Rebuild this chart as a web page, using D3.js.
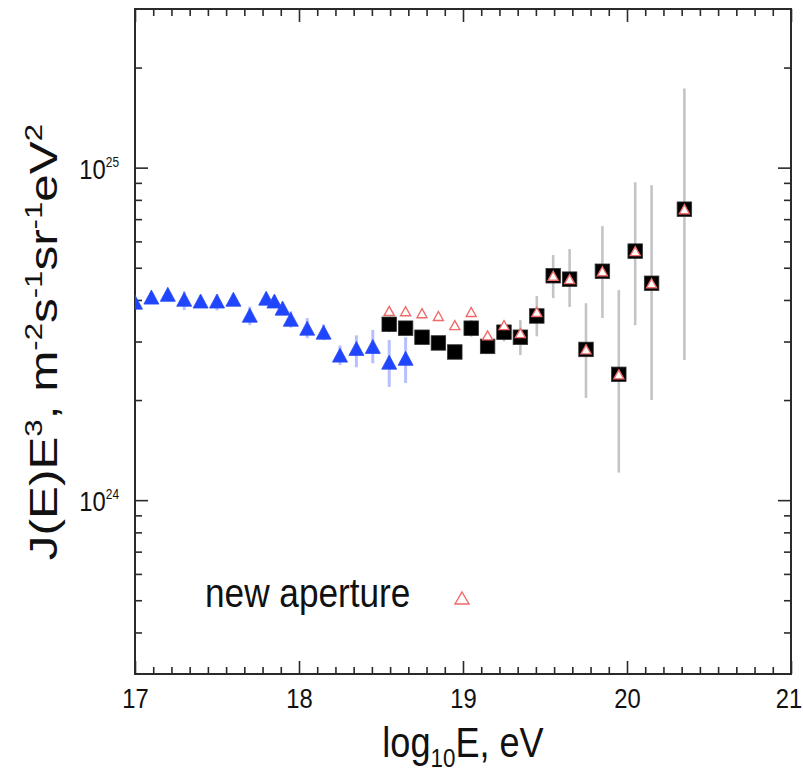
<!DOCTYPE html>
<html>
<head>
<meta charset="utf-8">
<script src="https://cdn.jsdelivr.net/npm/d3@7"></script>
<style>
  html, body { margin: 0; padding: 0; background: #fff; }
  svg { display: block; }
  text { font-family: "Liberation Sans", Arial, sans-serif; fill: #111; }
</style>
</head>
<body>
<svg id="chart" width="803" height="777"></svg>
<script>
// ---- data (J(E)E^3 in units of 1e24 m^-2 s^-1 sr^-1 eV^2) ----
const lowX  = [17.0, 17.1, 17.2, 17.3, 17.4, 17.5, 17.6, 17.7, 17.8, 17.85, 17.9, 17.95, 18.05, 18.15, 18.25, 18.35, 18.45, 18.55, 18.65];
const lowY  = [3.94, 4.08, 4.16, 4.02, 3.97, 3.97, 4.02, 3.60, 4.05, 3.97, 3.78, 3.50, 3.29, 3.20, 2.73, 2.86, 2.90, 2.60, 2.67];
const lowLo = [3.84, 3.98, 4.06, 3.73, 3.82, 3.72, 3.88, 3.36, 3.90, 3.85, 3.60, 3.30, 3.07, 3.03, 2.55, 2.51, 2.58, 2.19, 2.25];
const lowHi = [4.04, 4.18, 4.26, 4.25, 4.12, 4.15, 4.16, 3.82, 4.20, 4.10, 3.95, 3.70, 3.53, 3.38, 2.92, 3.13, 3.25, 3.03, 3.09];

const highX  = [18.55, 18.65, 18.75, 18.85, 18.95, 19.05, 19.15, 19.25, 19.35, 19.45, 19.55, 19.65, 19.75, 19.85, 19.95, 20.05, 20.15, 20.35];
const highY  = [3.38, 3.29, 3.09, 2.97, 2.79, 3.29, 2.90, 3.20, 3.09, 3.58, 4.73, 4.62, 2.84, 4.88, 2.39, 5.61, 4.49, 7.50];
const highLo = [3.20, 3.12, 2.95, 2.83, 2.66, 3.10, 2.75, 3.00, 2.73, 3.11, 4.05, 3.81, 2.03, 3.53, 1.21, 3.36, 2.00, 2.64];
const highHi = [3.56, 3.46, 3.24, 3.12, 2.93, 3.48, 3.05, 3.42, 3.48, 4.11, 5.46, 5.69, 3.91, 6.67, 4.28, 9.04, 8.86, 17.3];

const newApY = [3.71, 3.70, 3.65, 3.58, 3.36, 3.68, 3.13, 3.36, 3.18, 3.68, 4.73, 4.62, 2.84, 4.88, 2.39, 5.61, 4.49, 7.50];

const xTickLabels = [17, 18, 19, 20, 21];
const yTickExps   = [24, 25];
const legendLabel = "new aperture";
const UNIT = 1e24;

// ---- layout ----
const svg = d3.select("#chart");
const plot = { left: 135, right: 791, top: 9, bottom: 674 };

const x = d3.scaleLinear().domain([17, 21]).range([plot.left, plot.right]);
const y = d3.scaleLog().domain([3e23, 3e25]).range([plot.bottom, plot.top]);

// tick positions
const xMinor = d3.range(17, 21.0001, 1 / 9).filter(v => Math.abs(v - Math.round(v)) > 1e-6);
const yMajor = yTickExps.map(e => Math.pow(10, e));
const yMinor = [4e23, 5e23, 6e23, 7e23, 8e23, 9e23,
                2e24, 3e24, 4e24, 5e24, 6e24, 7e24, 8e24, 9e24, 2e25];

const tickColor = "#2a2a2a";
const textColor = "#1a1a1a";
function styleAxis(g) {
  g.select(".domain").remove();
  g.selectAll(".tick line").attr("stroke", tickColor).attr("stroke-width", 1.6);
}

// bottom axis: major with labels, minor without
svg.append("g").attr("transform", `translate(0,${plot.bottom})`)
  .call(d3.axisBottom(x).tickValues(xTickLabels).tickSize(-13).tickPadding(14).tickFormat(d3.format("d")))
  .call(styleAxis)
  .call(g => g.selectAll(".tick text")
      .attr("font-size", 28).attr("fill", textColor)
      .attr("transform", "scale(0.85,1)")
      .attr("dx", d => d === 21 ? -3 : 0)
      .style("font-family", '"Liberation Sans", Arial, sans-serif'));
svg.append("g").attr("transform", `translate(0,${plot.bottom})`)
  .call(d3.axisBottom(x).tickValues(xMinor).tickSize(-7).tickFormat(""))
  .call(styleAxis);

// top axis
svg.append("g").attr("transform", `translate(0,${plot.top})`)
  .call(d3.axisTop(x).tickValues(xTickLabels).tickSize(-13).tickFormat(""))
  .call(styleAxis);
svg.append("g").attr("transform", `translate(0,${plot.top})`)
  .call(d3.axisTop(x).tickValues(xMinor).tickSize(-7).tickFormat(""))
  .call(styleAxis);

// left axis
svg.append("g").attr("transform", `translate(${plot.left},0)`)
  .call(d3.axisLeft(y).tickValues(yMajor).tickSize(-13).tickFormat(""))
  .call(styleAxis);
svg.append("g").attr("transform", `translate(${plot.left},0)`)
  .call(d3.axisLeft(y).tickValues(yMinor).tickSize(-7).tickFormat(""))
  .call(styleAxis);

// right axis
svg.append("g").attr("transform", `translate(${plot.right},0)`)
  .call(d3.axisRight(y).tickValues(yMajor).tickSize(-13).tickFormat(""))
  .call(styleAxis);
svg.append("g").attr("transform", `translate(${plot.right},0)`)
  .call(d3.axisRight(y).tickValues(yMinor).tickSize(-7).tickFormat(""))
  .call(styleAxis);

// y tick labels 10^n
const yLab = svg.append("g").selectAll("g").data(yTickExps).join("g")
  .attr("transform", d => `translate(119,${y(Math.pow(10, d)) + 11}) scale(0.85,1)`);
yLab.append("text").attr("text-anchor", "end").attr("fill", textColor)
  .each(function (d) {
    const t = d3.select(this);
    t.append("tspan").attr("font-size", 28).text("10");
    t.append("tspan").attr("font-size", 14).attr("dy", -12).text(String(d));
  });

// frame
svg.append("rect")
  .attr("x", plot.left).attr("y", plot.top)
  .attr("width", plot.right - plot.left).attr("height", plot.bottom - plot.top)
  .attr("fill", "none").attr("stroke", tickColor).attr("stroke-width", 2);

// clip for data marks
svg.append("clipPath").attr("id", "plotClip")
  .append("rect").attr("x", plot.left).attr("y", plot.top)
  .attr("width", plot.right - plot.left).attr("height", plot.bottom - plot.top);
const data = svg.append("g").attr("clip-path", "url(#plotClip)");

// triangle path centred on its bounding box
function tri(w, h) {
  return `M0,${-h / 2}L${w / 2},${h / 2}L${-w / 2},${h / 2}Z`;
}

const low = lowX.map((v, i) => ({ x: v, y: lowY[i] * UNIT, lo: lowLo[i] * UNIT, hi: lowHi[i] * UNIT }));
const high = highX.map((v, i) => ({ x: v, y: highY[i] * UNIT, lo: highLo[i] * UNIT, hi: highHi[i] * UNIT }));
const newAp = highX.map((v, i) => ({ x: v, y: newApY[i] * UNIT }));

// error bars
data.append("g").selectAll("line").data(high).join("line")
  .attr("x1", d => x(d.x)).attr("x2", d => x(d.x))
  .attr("y1", d => y(d.lo)).attr("y2", d => y(d.hi))
  .attr("stroke", "#c4c4c4").attr("stroke-width", 2.6);
data.append("g").selectAll("line").data(low).join("line")
  .attr("x1", d => x(d.x)).attr("x2", d => x(d.x))
  .attr("y1", d => y(d.lo)).attr("y2", d => y(d.hi))
  .attr("stroke", "#b8bfff").attr("stroke-width", 3);

// filled blue triangles
data.append("g").selectAll("path").data(low).join("path")
  .attr("d", tri(15, 14))
  .attr("transform", d => `translate(${x(d.x)},${y(d.y)})`)
  .attr("fill", "#1f45ff").attr("stroke", "#2a4cf0").attr("stroke-width", 0.8);

// black squares
const sq = 14.5;
data.append("g").selectAll("rect").data(high).join("rect")
  .attr("x", d => x(d.x) - sq / 2).attr("y", d => y(d.y) - sq / 2)
  .attr("width", sq).attr("height", sq)
  .attr("fill", "#000").attr("stroke", "#333").attr("stroke-width", 0.8);

// open red triangles (new aperture)
data.append("g").selectAll("path").data(newAp).join("path")
  .attr("d", tri(10, 9))
  .attr("transform", d => `translate(${x(d.x)},${y(d.y)})`)
  .attr("fill", "#fff").attr("stroke", "#f06a6a").attr("stroke-width", 1.4);

// legend
svg.append("text")
  .attr("transform", "translate(205,607) scale(0.88,1)")
  .attr("font-size", 40).attr("fill", textColor).text(legendLabel);
svg.append("path")
  .attr("d", tri(14, 12))
  .attr("transform", "translate(462,598)")
  .attr("fill", "none").attr("stroke", "#f06a6a").attr("stroke-width", 1.4);

// x axis title: log10E, eV
const xt = svg.append("text")
  .attr("text-anchor", "middle").attr("fill", textColor)
  .attr("transform", `translate(${(plot.left + plot.right) / 2},757) scale(0.86,1)`)
  .attr("font-size", 42);
xt.append("tspan").text("log");
xt.append("tspan").attr("font-size", 26).attr("dy", 10).text("10");
xt.append("tspan").attr("dy", -10).text("E, eV");

// y axis title: J(E)E^3, m^-2 s^-1 sr^-1 eV^2
const yt = svg.append("text")
  .attr("text-anchor", "middle").attr("fill", textColor)
  .attr("transform", "translate(57,342) rotate(-90) scale(1.3,1)")
  .attr("font-size", 38);
const parts = [
  ["J(E)E", 0], ["3", 1], [", m", 0], ["-2", 1], ["s", 0], ["-1", 1],
  ["sr", 0], ["-1", 1], ["eV", 0], ["2", 1]
];
let raised = false;
parts.forEach(([s, sup]) => {
  const ts = yt.append("tspan").text(s);
  if (sup) {
    ts.attr("font-size", 24);
    if (!raised) { ts.attr("dy", -15); raised = true; }
  } else if (raised) {
    ts.attr("dy", 15); raised = false;
  }
});
</script>
</body>
</html>
